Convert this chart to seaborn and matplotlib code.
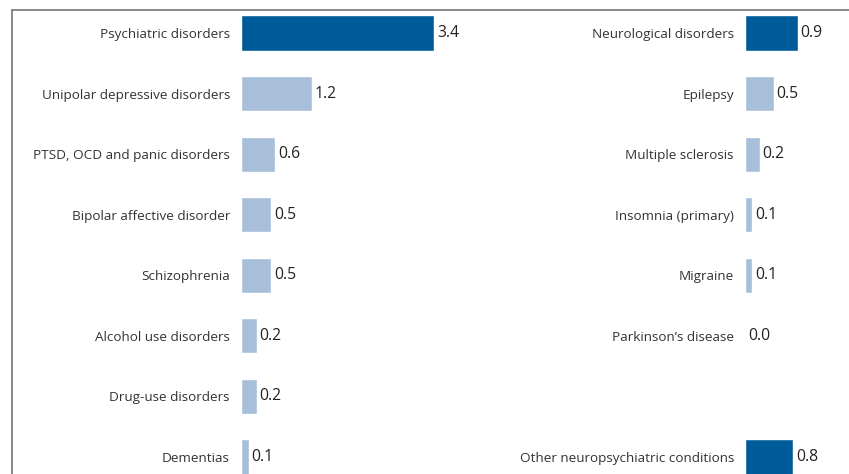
import matplotlib
matplotlib.use("Agg")
import matplotlib.pyplot as plt
import seaborn as sns
from matplotlib.lines import Line2D

sns.set_style("white")
plt.rcParams['font.family'] = ['Open Sans', 'DejaVu Sans']

# Left panel: psychiatric disorders
psy_cats = ["Psychiatric disorders", "Unipolar depressive disorders",
            "PTSD, OCD and panic disorders", "Bipolar affective disorder",
            "Schizophrenia", "Alcohol use disorders", "Drug-use disorders",
            "Dementias"]
psy_vals = [3.4, 1.25, 0.6, 0.53, 0.53, 0.28, 0.28, 0.14]
psy_text = ["3.4", "1.2", "0.6", "0.5", "0.5", "0.2", "0.2", "0.1"]

# Right panel: neurological disorders
neu_cats = ["Neurological disorders", "Epilepsy", "Multiple sclerosis",
            "Insomnia (primary)", "Migraine", "Parkinson\u2019s disease", "",
            "Other neuropsychiatric conditions"]
neu_vals = [0.93, 0.51, 0.26, 0.13, 0.13, 0.0, 0.0, 0.85]
neu_text = ["0.9", "0.5", "0.2", "0.1", "0.1", "0.0", "", "0.8"]

dark = "#005b9a"
light = "#a7bfd9"
psy_cols = [dark] + [light] * 7
neu_cols = [dark, light, light, light, light, light, light, dark]

W, H = 849, 474
fig = plt.figure(figsize=(W / 100, H / 100), dpi=100)

px = 56.8  # pixels per unit
y_top, y_bot = 10, 474
row0, step = 33, 60.57
ylim = ((y_bot - row0) / step, (y_top - row0) / step)


def panel(x0, x1, cats, vals, text, cols):
    ax = fig.add_axes([x0 / W, 0, (x1 - x0) / W, (H - y_top) / H])
    pos = list(range(len(cats)))
    sns.barplot(x=vals, y=[str(p) for p in pos], hue=[str(p) for p in pos],
                palette=cols, legend=False, orient="h", width=0.58,
                saturation=1, ax=ax)
    ax.set_xlim(0, (x1 - x0) / px)
    ax.set_ylim(*ylim)
    ax.set_yticks(pos)
    ax.set_yticklabels(cats, fontsize=9.7, color="#333333")
    ax.tick_params(axis="y", length=0, pad=8)
    ax.set_xticks([])
    ax.set_xlabel("")
    ax.set_ylabel("")
    sns.despine(ax=ax, left=True, bottom=True)
    for c in ax.containers:
        labs = [text[int(round(b.get_y() + b.get_height() / 2))] for b in c]
        ax.bar_label(c, labels=labs, padding=2, fontsize=11.3, color="#222222")
    return ax


panel(241, 500, psy_cats, psy_vals, psy_text, psy_cols)
panel(745, 849, neu_cats, neu_vals, neu_text, neu_cols)

# grey frame on top and left
fig.add_artist(Line2D([12 / W, 12 / W], [0, 1 - 10 / H], color="#7f7f7f", lw=1.3,
                      transform=fig.transFigure))
fig.add_artist(Line2D([12 / W, 1], [1 - 10 / H, 1 - 10 / H], color="#7f7f7f", lw=1.3,
                      transform=fig.transFigure))

fig.savefig("out.png", dpi=100)
